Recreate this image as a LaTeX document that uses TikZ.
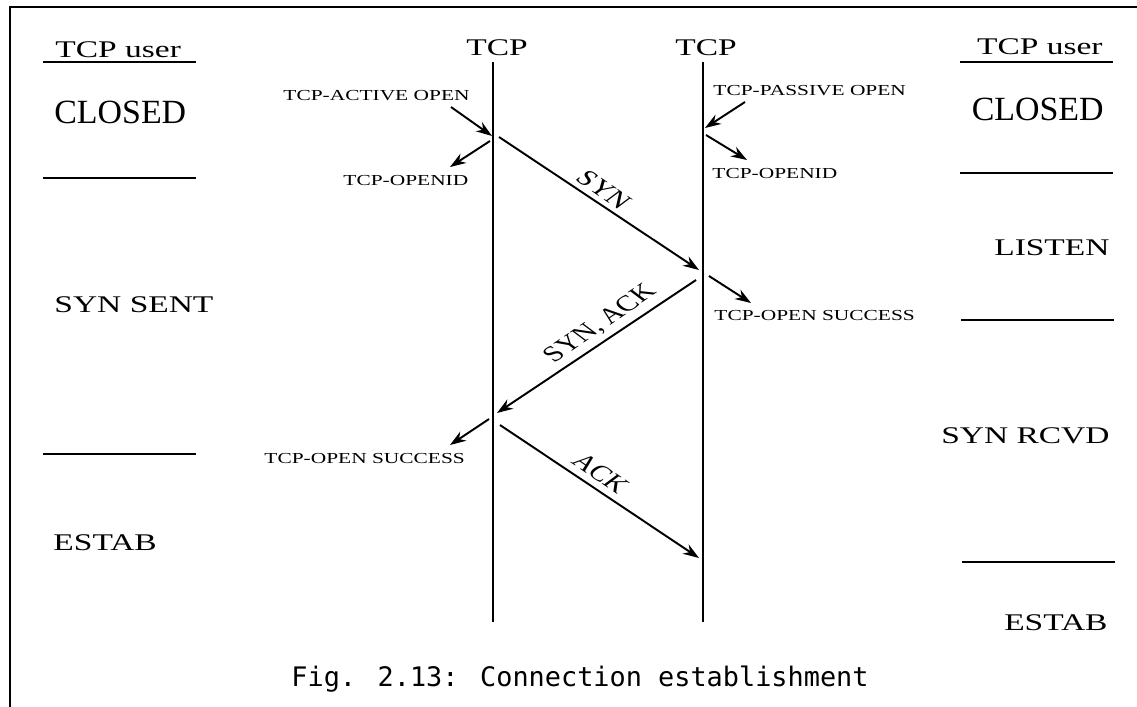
\documentclass[tikz,border=0pt]{standalone}
\usepackage{fontspec}
\setmainfont{Liberation Serif}
\newfontfamily\capfont{DejaVu Sans Mono}
\usepackage{tikz}
\usetikzlibrary{arrows.meta,positioning,calc}

\begin{document}
\begin{tikzpicture}[x=0.02cm,y=-0.02cm,
  big/.style={font=\fontsize{13.6}{16}\selectfont,inner sep=0pt,xscale=1.4},
  bigger/.style={font=\fontsize{19.3}{22}\selectfont,inner sep=0pt},
  small/.style={font=\fontsize{8.7}{10}\selectfont,inner sep=0pt,xscale=1.4},
  msglbl/.style={font=\fontsize{12.6}{14}\selectfont,inner sep=0pt,xscale=1.4},
  sep/.style={line width=1.6pt},
  life/.style={line width=1.1pt},
  msg/.style={line width=1.1pt,-{Stealth[length=3.2mm,width=2.2mm]}}]
\useasboundingbox (0,0) rectangle (1137,707);
\draw[line width=1.4pt] (10,707) -- (10,7) -- (1137,7);

% the two TCP entities
\node[big,anchor=base] (tcpA) at (497,55) {TCP};
\node[big,anchor=base] (tcpB) at (706,55) {TCP};
\coordinate (a0) at (493,62);
\coordinate (a1) at (493,622);
\coordinate (b0) at (703,62);
\coordinate (b1) at (703,622);
\draw[life] (a0) -- (a1);
\draw[life] (b0) -- (b1);

% states of the left user
\node[big,anchor=base west] (userA) at (55,57) {TCP user};
\node[bigger,anchor=base west] (closedA) at (54,123) {CLOSED};
\node[big,anchor=base west] (synsent) at (54,312) {SYN SENT};
\node[big,anchor=base west] (estabA) at (53,550) {ESTAB};
\draw[sep] (43,62) -- (196,62);
\draw[sep] (43,178) -- (196,178);
\draw[sep] (43,454) -- (196,454);

% states of the right user
\node[big,anchor=base east] (userB) at (1103,54) {TCP user};
\node[bigger,anchor=base east] (closedB) at (1104,120) {CLOSED};
\node[big,anchor=base east] (listen) at (1110,255) {LISTEN};
\node[big,anchor=base east] (synrcvd) at (1110,443) {SYN RCVD};
\node[big,anchor=base east] (estabB) at (1108,630) {ESTAB};
\draw[sep] (960,62) -- (1113,62);
\draw[sep] (960,173) -- (1113,173);
\draw[sep] (961,320) -- (1114,320);
\draw[sep] (962,562) -- (1115,562);

% primitives
\node[small,anchor=base west] (actopen) at (283,100) {TCP-ACTIVE OPEN};
\node[small,anchor=base west] (openidA) at (343,185) {TCP-OPENID};
\node[small,anchor=base west] (pasopen) at (713,95) {TCP-PASSIVE OPEN};
\node[small,anchor=base west] (openidB) at (712,178) {TCP-OPENID};
\node[small,anchor=base west] (succB) at (714,320) {TCP-OPEN SUCCESS};
\node[small,anchor=base west] (succA) at (264,463) {TCP-OPEN SUCCESS};
\coordinate (ao1) at (451,107);
\coordinate (ao2) at (492,136);
\coordinate (oi1) at (490,141);
\coordinate (oi2) at (450,167);
\coordinate (po1) at (745,102);
\coordinate (po2) at (705,128);
\coordinate (oj1) at (706,135);
\coordinate (oj2) at (747,160);
\coordinate (os1) at (709,276);
\coordinate (os2) at (751,303);
\coordinate (ot1) at (489,419);
\coordinate (ot2) at (450,445);
\draw[msg] (ao1) -- (ao2);
\draw[msg] (oi1) -- (oi2);
\draw[msg] (po1) -- (po2);
\draw[msg] (oj1) -- (oj2);
\draw[msg] (os1) -- (os2);
\draw[msg] (ot1) -- (ot2);

% segments
\coordinate (s1) at (499,137);
\coordinate (s2) at (699,270);
\coordinate (sa1) at (696,280);
\coordinate (sa2) at (497,413);
\coordinate (k1) at (500,425);
\coordinate (k2) at (699,558);
\draw[msg] (s1) -- (s2);
\draw[msg] (sa1) -- (sa2);
\draw[msg] (k1) -- (k2);
\node[msglbl,rotate=-43.7] (synl) at (604,190) {SYN};
\node[msglbl,rotate=43.6] (synackl) at (601,324) {SYN, ACK};
\node[msglbl,rotate=-43.7] (ackl) at (601,473) {ACK};

\node[font=\capfont\fontsize{15.3}{18}\selectfont,inner sep=0pt,anchor=base] (caption) at (580,686) {Fig. 2.13: Connection establishment};
\end{tikzpicture}
\end{document}
